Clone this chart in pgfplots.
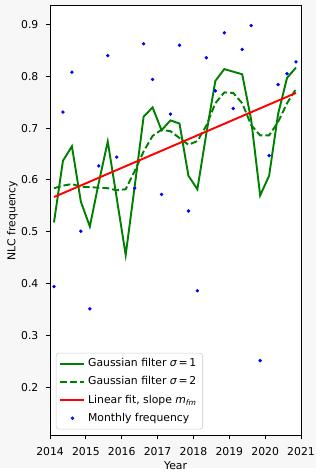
\documentclass[border=0pt]{standalone}
\usepackage{fontspec}
\setmainfont{DejaVu Sans}
\usepackage{pgfplots}
\pgfplotsset{compat=1.18}
\usepackage{pgfplotstable}
\definecolor{figbg}{RGB}{247,247,247}
\definecolor{mplgreen}{RGB}{0,128,0}
\newcommand{\fs}{\fontsize{7.9}{9.5}\selectfont}
\pgfplotsset{
  lineleg/.style={legend image code/.code={\draw[##1] (0pt,0pt) -- (17.5pt,0pt);}},
  dotleg/.style={legend image code/.code={\draw[##1] plot coordinates {(8.75pt,0pt)};}},
}

\pgfplotstableread{
x v
2014.11 0.394
2014.36 0.731
2014.61 0.808
2014.86 0.501
2015.11 0.351
2015.36 0.627
2015.61 0.840
2015.86 0.644
2016.11 0.147
2016.36 0.584
2016.61 0.863
2016.86 0.794
2017.11 0.572
2017.36 0.727
2017.61 0.860
2017.86 0.540
2018.11 0.386
2018.36 0.836
2018.61 0.772
2018.86 0.884
2019.11 0.738
2019.36 0.852
2019.61 0.898
2019.86 0.251
2020.11 0.647
2020.36 0.784
2020.61 0.805
2020.86 0.828
}\monthly

\pgfplotstableread{
x v
2014.11 0.518
2014.36 0.637
2014.61 0.665
2014.86 0.558
2015.11 0.510
2015.36 0.595
2015.61 0.674
2015.86 0.565
2016.11 0.455
2016.36 0.587
2016.61 0.722
2016.86 0.740
2017.11 0.696
2017.36 0.715
2017.61 0.709
2017.86 0.608
2018.11 0.582
2018.36 0.690
2018.61 0.791
2018.86 0.814
2019.11 0.809
2019.36 0.804
2019.61 0.716
2019.86 0.570
2020.11 0.608
2020.36 0.727
2020.61 0.797
2020.86 0.817
}\gaussone

\pgfplotstableread{
x v
2014.11 0.584
2014.36 0.589
2014.61 0.592
2014.86 0.587
2015.11 0.586
2015.36 0.585
2015.61 0.584
2015.86 0.580
2016.11 0.582
2016.36 0.617
2016.61 0.655
2016.86 0.685
2017.11 0.697
2017.36 0.694
2017.61 0.681
2017.86 0.668
2018.11 0.675
2018.36 0.705
2018.61 0.748
2018.86 0.769
2019.11 0.768
2019.36 0.748
2019.61 0.706
2019.86 0.686
2020.11 0.686
2020.36 0.712
2020.61 0.748
2020.86 0.776
}\gausstwo

\pgfplotstableread{
x v
2014.11 0.567
2020.86 0.768
}\linfit

\begin{document}
\begin{tikzpicture}
\fill[figbg] (0,0) rectangle (230.4pt,341.28pt);
\begin{axis}[
  at={(36.5pt,23.76pt)}, anchor=south west,
  scale only axis, width=183.1pt, height=313.2pt,
  xmin=2014, xmax=2021, ymin=0.107, ymax=0.936,
  axis background/.style={fill=white},
  axis line style={line width=0.63pt},
  xtick={2014,2015,...,2021},
  ytick={0.2,0.3,...,0.9},
  tick pos=left, tick align=outside,
  major tick length=3pt,
  every tick/.style={black, line width=0.63pt},
  /pgf/number format/assume math mode=true,
  xticklabel style={/pgf/number format/1000 sep={}, /pgf/number format/fixed, yshift=-2.6pt},
  yticklabel style={/pgf/number format/fixed, /pgf/number format/precision=1, /pgf/number format/fixed zerofill, xshift=-2pt},
  ticklabel style={font=\fs},
  xlabel={Year}, ylabel={NLC frequency},
  every axis x label/.style={at={(rel axis cs:0.5,0)}, yshift=-22pt, anchor=center, font=\fs},
  every axis y label/.style={at={(rel axis cs:0,0.5)}, xshift=-27.5pt, rotate=90, anchor=center, font=\fs},
  legend cell align=left,
  legend style={at={(rel axis cs:0,0)}, anchor=south west, xshift=4.3pt, yshift=4.3pt,
    draw=black!20, rounded corners=2pt, fill=white, fill opacity=0.8, text opacity=1, draw opacity=1,
    font=\fs, row sep=1.8pt, inner xsep=2.4pt, inner ysep=2.2pt,
    nodes={text height=5.8pt, text depth=1.6pt, inner sep=2pt}},
]
\addplot[mplgreen, line width=1.4pt, lineleg] table[x=x,y=v] {\gaussone};
\addlegendentry{Gaussian filter {\itshape σ}\,=\,1}
\addplot[mplgreen, line width=1.4pt, dash pattern=on 5pt off 2.2pt, lineleg] table[x=x,y=v] {\gausstwo};
\addlegendentry{Gaussian filter {\itshape σ}\,=\,2}
\addplot[red, line width=1.4pt, lineleg] table[x=x,y=v] {\linfit};
\addlegendentry{Linear fit, slope {\itshape m}\textsubscript{\itshape fm}}
\addplot[only marks, mark=*, mark size=1.05pt, blue, mark options={draw=none, fill=blue}, dotleg] table[x=x,y=v] {\monthly};
\addlegendentry{Monthly frequency}
\end{axis}
\end{tikzpicture}
\end{document}
